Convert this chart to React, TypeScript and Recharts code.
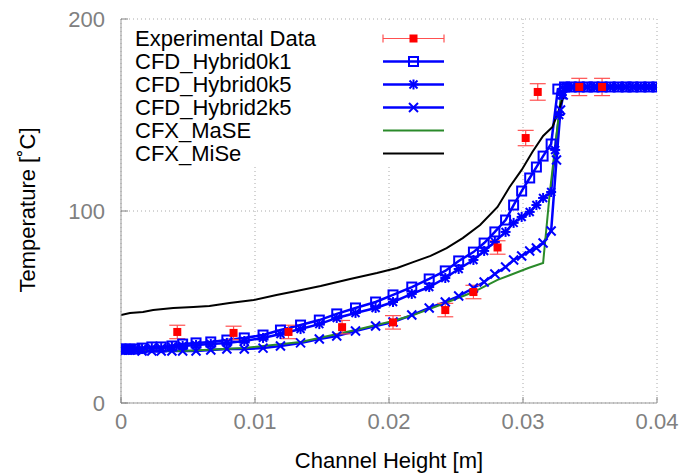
import React from "react";
import { ComposedChart, Line, Scatter, ErrorBar, XAxis, YAxis, CartesianGrid } from "recharts";

// ---------- data ----------
const expX = [0.0042, 0.0084, 0.0125, 0.0165, 0.0203, 0.0242, 0.0263, 0.0281, 0.0302, 0.0311, 0.0342, 0.0359];
const expT = [37, 36.5, 37, 39.5, 42, 48.4, 57.8, 81, 138, 162, 164.6, 164.6];
const expErr = [3.5, 3.5, 3.5, 3.5, 3.5, 3.5, 3.5, 3.5, 4, 4.3, 4.5, 4.5];

const meshX = [0, 0.0003, 0.00067, 0.00104, 0.00157, 0.0023, 0.003, 0.0038, 0.0046, 0.0056, 0.0067, 0.0079, 0.0092,
  0.0106, 0.0119, 0.0134, 0.0148, 0.0161, 0.0175, 0.019, 0.0203, 0.0217, 0.023, 0.0242, 0.0252, 0.0263, 0.0271,
  0.0279, 0.0287, 0.0293, 0.0299, 0.0305, 0.031, 0.0315, 0.0321];
const flatX = [0.0336, 0.0342, 0.0348, 0.0353, 0.0359, 0.0365, 0.0371, 0.0377, 0.0382, 0.0388, 0.0394, 0.04];
const flatT = [164.6, 164.6, 164.6, 164.6, 164.6, 164.6, 164.6, 164.6, 164.6, 164.6, 164.6, 164.6];

const h0k1X = [...meshX, 0.0326, 0.0331, ...flatX];
const h0k1T = [28.1, 28.1, 28.1, 28.1, 28.6, 29.2, 29.2, 29.7, 30.7, 31.3, 31.8, 32.8, 33.9, 35.4, 38.0, 40.6, 43.2,
  46.4, 49.5, 52.6, 56.3, 60.4, 64.6, 68.8, 74.0, 78.6, 83.3, 89.1, 95.3, 103.1, 110.4, 117.2, 122.9, 128.6, 134.9,
  163.5, 164.6, ...flatT];

const h0k5X = [...meshX, 0.0324, 0.0327, 0.0329, 0.0332, ...flatX];
const h0k5T = [28.1, 28.1, 28.1, 28.1, 28.1, 28.6, 28.6, 29.2, 29.7, 30.2, 30.7, 31.3, 32.3, 33.9, 35.9, 38.5, 41.1,
  44.3, 46.9, 49.5, 52.6, 56.8, 60.4, 65.1, 69.8, 74.5, 79.2, 83.9, 89.1, 93.8, 96.9, 99.5, 103.1, 106.8, 109.9,
  131.8, 150.0, 160.4, 164.6, ...flatT];

const h2k5X = [...meshX, 0.0325, 0.0328, 0.033, 0.0333, ...flatX];
const h2k5T = [27.6, 27.6, 27.6, 27.6, 27.1, 27.1, 27.1, 27.1, 27.1, 27.1, 27.6, 28.1, 28.1, 28.6, 29.7, 31.3, 33.3,
  34.9, 37.5, 40.1, 42.2, 45.8, 49.5, 52.6, 55.7, 59.9, 63.0, 67.2, 70.8, 74.5, 76.6, 79.2, 80.7, 83.3, 89.6,
  126.6, 152.6, 160.4, 164.6, ...flatT];

const maseX = [0, 0.0046, 0.0092, 0.0134, 0.0175, 0.0203, 0.0218, 0.0242, 0.0263, 0.0281, 0.0304, 0.0315, 0.032, 0.0328, 0.0331, 0.04];
const maseT = [27.6, 27.1, 28.6, 31.8, 38.0, 42.7, 45.8, 52.1, 57.8, 64.1, 70.3, 72.9, 109.4, 157.8, 164.6, 164.6];

const miseX = [0, 0.00067, 0.00164, 0.0024, 0.0039, 0.0054, 0.0066, 0.0081, 0.0099, 0.0116, 0.0131, 0.0149, 0.0171,
  0.0191, 0.0206, 0.0218, 0.0231, 0.0243, 0.0255, 0.0268, 0.0281, 0.029, 0.0299, 0.0307, 0.0315, 0.0322, 0.0326,
  0.033, 0.0333, 0.0343, 0.04];
const miseT = [45.8, 46.9, 47.4, 48.4, 49.5, 50.0, 50.5, 52.1, 53.6, 56.3, 58.3, 60.9, 64.6, 67.7, 70.3, 73.4, 76.6,
  80.7, 85.9, 92.7, 102.1, 112.5, 121.4, 130.7, 139.1, 143.8, 151.0, 159.4, 164.1, 164.6, 164.6];

const xTicks = [0, 0.01, 0.02, 0.03, 0.04];
const xTickLabels = ["0", "0.01", "0.02", "0.03", "0.04"];
const yTicks = [0, 100, 200];
const yTickLabels = ["0", "100", "200"];

const seriesNames = ["Experimental Data", "CFD_Hybrid0k1", "CFD_Hybrid0k5", "CFD_Hybrid2k5", "CFX_MaSE", "CFX_MiSe"];
const xTitle = "Channel Height [m]";
const yTitle = "Temperature [˚C]";

// ---------- helpers ----------
const pts = (xs: number[], ts: number[]) => xs.map((x, i) => ({ x, t: ts[i] }));
const expData = expX.map((x, i) => ({ x, t: expT[i], err: expErr[i] }));

const FONT = "'Liberation Sans', Arial, Helvetica, sans-serif";
const BLUE = "#0000ff";
const GREEN = "#2a8a2a";
const RED = "#ff0000";
const GRAY = "#808080";
const BW = 2.5;

const SquareMark = ({ cx, cy }: any) => (
  <rect x={cx - 4.5} y={cy - 4.5} width={9} height={9} fill="none" stroke={BLUE} strokeWidth={2} />
);
const StarMark = ({ cx, cy }: any) => (
  <g stroke={BLUE} strokeWidth={2}>
    <line x1={cx - 4} y1={cy - 4} x2={cx + 4} y2={cy + 4} />
    <line x1={cx - 4} y1={cy + 4} x2={cx + 4} y2={cy - 4} />
    <line x1={cx - 5} y1={cy} x2={cx + 5} y2={cy} />
    <line x1={cx} y1={cy - 5} x2={cx} y2={cy + 5} />
  </g>
);
const XMark = ({ cx, cy }: any) => (
  <g stroke={BLUE} strokeWidth={2}>
    <line x1={cx - 4.5} y1={cy - 4.5} x2={cx + 4.5} y2={cy + 4.5} />
    <line x1={cx - 4.5} y1={cy + 4.5} x2={cx + 4.5} y2={cy - 4.5} />
  </g>
);

const mkDot = (Comp: any) => (props: any) => {
  const { key, cx, cy, index } = props;
  if (cx == null || cy == null) return <g key={key ?? index} />;
  return <Comp key={key ?? `d${index}`} cx={cx} cy={cy} />;
};

const RedSquare = (props: any) => {
  const { cx, cy } = props;
  return <rect x={cx - 4} y={cy - 4} width={8} height={8} fill={RED} />;
};

const XTick = ({ x, payload }: any) => (
  <g>
    <line x1={x} x2={x} y1={403} y2={397} stroke={GRAY} strokeWidth={1} />
    <text x={x} y={421} textAnchor="middle" dominantBaseline="central" fill={GRAY} fontSize={22} fontFamily={FONT}>
      {xTickLabels[xTicks.indexOf(payload.value)] ?? String(payload.value)}
    </text>
  </g>
);
const YTick = ({ y, payload }: any) => (
  <g>
    <line x1={121} x2={128} y1={y} y2={y} stroke={GRAY} strokeWidth={1} />
    <text x={105} y={y} textAnchor="end" dominantBaseline="central" fill={GRAY} fontSize={22} fontFamily={FONT}>
      {yTickLabels[yTicks.indexOf(payload.value)] ?? String(payload.value)}
    </text>
  </g>
);

const rowY = (i: number) => 38.5 + 23 * i;
const LX1 = 383, LX2 = 444, LXM = 413.5;

export default function App() {
  return (
    <div style={{ position: "relative", width: 683, height: 474, background: "#fff", fontFamily: FONT }}>
      <style>{`body{margin:0;background:#fff}`}</style>
      <ComposedChart width={683} height={474} margin={{ top: 19, right: 26, bottom: 0, left: 0 }}>
        <CartesianGrid stroke="#aaaaaa" strokeDasharray="1 3" />
        <XAxis type="number" dataKey="x" domain={[0, 0.04]} ticks={xTicks} height={71} allowDataOverflow
          axisLine={{ stroke: "#999" }} tickLine={false} tick={<XTick />} interval={0} />
        <YAxis type="number" dataKey="t" domain={[0, 200]} ticks={yTicks} width={121} allowDataOverflow
          axisLine={{ stroke: "#999" }} tickLine={false} tick={<YTick />} interval={0} />
        <Line data={pts(h0k1X, h0k1T)} dataKey="t" type="linear" stroke={BLUE} strokeWidth={BW}
          dot={mkDot(SquareMark)} activeDot={false} isAnimationActive={false} />
        <Line data={pts(h0k5X, h0k5T)} dataKey="t" type="linear" stroke={BLUE} strokeWidth={BW}
          dot={mkDot(StarMark)} activeDot={false} isAnimationActive={false} />
        <Line data={pts(h2k5X, h2k5T)} dataKey="t" type="linear" stroke={BLUE} strokeWidth={BW}
          dot={mkDot(XMark)} activeDot={false} isAnimationActive={false} />
        <Line data={pts(maseX, maseT)} dataKey="t" type="linear" stroke={GREEN} strokeWidth={2}
          dot={false} activeDot={false} isAnimationActive={false} />
        <Line data={pts(miseX, miseT)} dataKey="t" type="linear" stroke="#000" strokeWidth={2}
          dot={false} activeDot={false} isAnimationActive={false} />
        <Scatter data={expData} dataKey="t" shape={<RedSquare />} isAnimationActive={false}>
          <ErrorBar dataKey="err" direction="y" width={8} stroke="#ff5050" strokeWidth={1.2} isAnimationActive={false} />
        </Scatter>
      </ComposedChart>

      <svg width={683} height={474} style={{ position: "absolute", left: 0, top: 0, pointerEvents: "none" }}>
        <rect x={122} y={21} width={334} height={143} fill="#fff" />
        {seriesNames.map((n, i) => (
          <text key={n} x={135} y={rowY(i)} dominantBaseline="central" fontSize={22} fontFamily={FONT} fill="#000">
            {n}
          </text>
        ))}
        <g stroke="#ff5050" strokeWidth={1.2}>
          <line x1={LX1} x2={LX2} y1={rowY(0)} y2={rowY(0)} />
          <line x1={LX1} x2={LX1} y1={rowY(0) - 4} y2={rowY(0) + 4} />
          <line x1={LX2} x2={LX2} y1={rowY(0) - 4} y2={rowY(0) + 4} />
        </g>
        <rect x={LXM - 4} y={rowY(0) - 4} width={8} height={8} fill={RED} />
        <line x1={LX1} x2={LX2} y1={rowY(1)} y2={rowY(1)} stroke={BLUE} strokeWidth={BW} />
        <SquareMark cx={LXM} cy={rowY(1)} />
        <line x1={LX1} x2={LX2} y1={rowY(2)} y2={rowY(2)} stroke={BLUE} strokeWidth={BW} />
        <StarMark cx={LXM} cy={rowY(2)} />
        <line x1={LX1} x2={LX2} y1={rowY(3)} y2={rowY(3)} stroke={BLUE} strokeWidth={BW} />
        <XMark cx={LXM} cy={rowY(3)} />
        <line x1={LX1} x2={LX2} y1={rowY(4)} y2={rowY(4)} stroke={GREEN} strokeWidth={2} />
        <line x1={LX1} x2={LX2} y1={rowY(5)} y2={rowY(5)} stroke="#000" strokeWidth={2} />

        <text x={389} y={460} textAnchor="middle" dominantBaseline="central" fontSize={22} fontFamily={FONT} fill="#000">
          {xTitle}
        </text>
        <text x={27} y={210} textAnchor="middle" dominantBaseline="central" fontSize={22} fontFamily={FONT} fill="#000"
          transform="rotate(-90 27 210)">
          {yTitle}
        </text>
      </svg>
    </div>
  );
}
